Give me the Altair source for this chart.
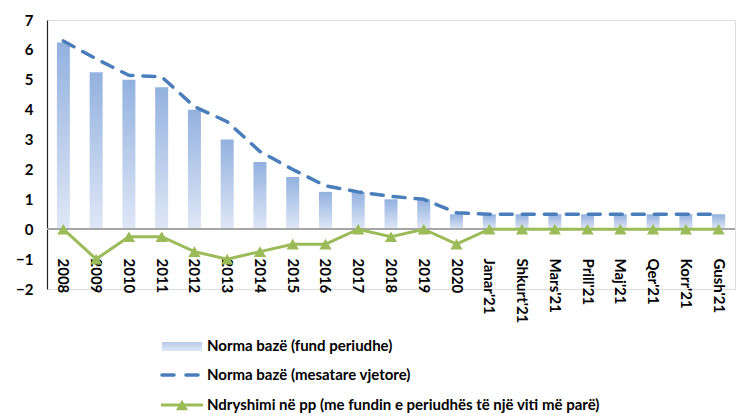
import altair as alt
import pandas as pd

categories = ["2008", "2009", "2010", "2011", "2012", "2013", "2014", "2015",
              "2016", "2017", "2018", "2019", "2020", "Janar'21", "Shkurt'21",
              "Mars'21", "Prill'21", "Maj'21", "Qer'21", "Korr'21", "Gush'21"]
end_rate = [6.25, 5.25, 5.0, 4.75, 4.0, 3.0, 2.25, 1.75, 1.25, 1.25, 1.0, 1.0, 0.5,
            0.5, 0.5, 0.5, 0.5, 0.5, 0.5, 0.5, 0.5]
avg_rate = [6.3, 5.7, 5.15, 5.1, 4.1, 3.6, 2.6, 2.0, 1.45, 1.25, 1.1, 1.0, 0.55,
            0.5, 0.5, 0.5, 0.5, 0.5, 0.5, 0.5, 0.5]
change_pp = [0, -1, -0.25, -0.25, -0.75, -1, -0.75, -0.5, -0.5, 0, -0.25, 0, -0.5,
             0, 0, 0, 0, 0, 0, 0, 0]
y_ticks = [-2, -1, 0, 1, 2, 3, 4, 5, 6, 7]
legend_labels = ["Norma bazë (fund periudhe)",
                 "Norma bazë (mesatare vjetore)",
                 "Ndryshimi në pp (me fundin e periudhës të një viti më parë)"]

df = pd.DataFrame({"cat": categories, "end": end_rate, "avg": avg_rate, "chg": change_pp})

FONT = "Lato"
BLUE = "#4a7ebb"
GREEN = "#9bbb59"

xenc = alt.X("cat:N", sort=categories,
             scale=alt.Scale(paddingInner=0, paddingOuter=0),
             axis=alt.Axis(title=None, labelAngle=90, labelAlign="left",
                           labelBaseline="middle", labelPadding=-31,
                           domain=False, ticks=False, tickSize=0, labelOverlap=False,
                           labelFont=FONT, labelFontWeight="bold",
                           labelFontSize=15, labelColor="black"))
yscale = alt.Scale(domain=[-2, 7], nice=False, zero=False)
yaxis = alt.Axis(title=None, values=y_ticks, tickCount=10, grid=False, ticks=False,
                 tickSize=0, domain=True, domainColor="#222", domainWidth=1.2,
                 labelOverlap=False, labelPadding=14, labelFont=FONT,
                 labelFontWeight="bold", labelFontSize=15, labelColor="black")

bar_grad = alt.Gradient(gradient="linear",
                        stops=[alt.GradientStop(color="#93b1df", offset=0),
                               alt.GradientStop(color="#dfe7f6", offset=1)],
                        x1=0, x2=0, y1=0, y2=1)

base = alt.Chart(df)
bars = base.mark_bar(size=13, color=bar_grad).encode(
    x=xenc, y=alt.Y("end:Q", scale=yscale, axis=yaxis))
zero = alt.Chart(df).mark_rule(color="#a6a6a6", strokeWidth=1.5).encode(
    y=alt.Y(datum=0, scale=yscale, axis=yaxis))
avg_line = base.mark_line(color=BLUE, strokeWidth=3.5, strokeDash=[12, 10],
                          strokeCap="round").encode(
    x=xenc, y=alt.Y("avg:Q", scale=yscale, axis=yaxis))
chg_line = base.mark_line(color=GREEN, strokeWidth=3,
                          point=alt.OverlayMarkDef(shape="triangle-up", filled=True,
                                                   size=150, color=GREEN,
                                                   opacity=1)).encode(
    x=xenc, y=alt.Y("chg:Q", scale=yscale, axis=yaxis))

one = pd.DataFrame({"k": [0]})
leg_rect = alt.Chart(one).mark_rect(
    color=alt.Gradient(gradient="linear",
                       stops=[alt.GradientStop(color="#b7cbea", offset=0),
                              alt.GradientStop(color="#dfe7f6", offset=1)],
                       x1=0, x2=0, y1=0, y2=1)).encode(
    x=alt.value(115), x2=alt.value(155), y=alt.value(322), y2=alt.value(331))
leg_dash = alt.Chart(one).mark_rule(color=BLUE, strokeWidth=3.5, strokeDash=[12, 12],
                                    strokeCap="round").encode(
    x=alt.value(115), x2=alt.value(156), y=alt.value(355))
leg_green = alt.Chart(one).mark_rule(color=GREEN, strokeWidth=3).encode(
    x=alt.value(114), x2=alt.value(156), y=alt.value(385))
leg_tri = alt.Chart(one).mark_point(shape="triangle-up", filled=True, size=150,
                                    color=GREEN, opacity=1).encode(
    x=alt.value(135), y=alt.value(385))
leg_texts = []
for i, lab in enumerate(legend_labels):
    leg_texts.append(
        alt.Chart(pd.DataFrame({"t": [lab]})).mark_text(
            align="left", baseline="middle", font=FONT, fontWeight="bold",
            fontSize=15, color="black").encode(
            text="t:N", x=alt.value(160), y=alt.value([326, 355, 385][i])))

chart = alt.layer(bars, zero, avg_line, chg_line, leg_rect, leg_dash, leg_green,
                  leg_tri, *leg_texts).properties(
    width=688, height=269,
    autosize=alt.AutoSizeParams(type="none"),
    padding={"left": 39, "top": 12, "right": 4, "bottom": 125},
).configure_view(stroke=None).configure(background="white")

chart.save("out.html", embed_options={"renderer": "svg", "actions": False})
